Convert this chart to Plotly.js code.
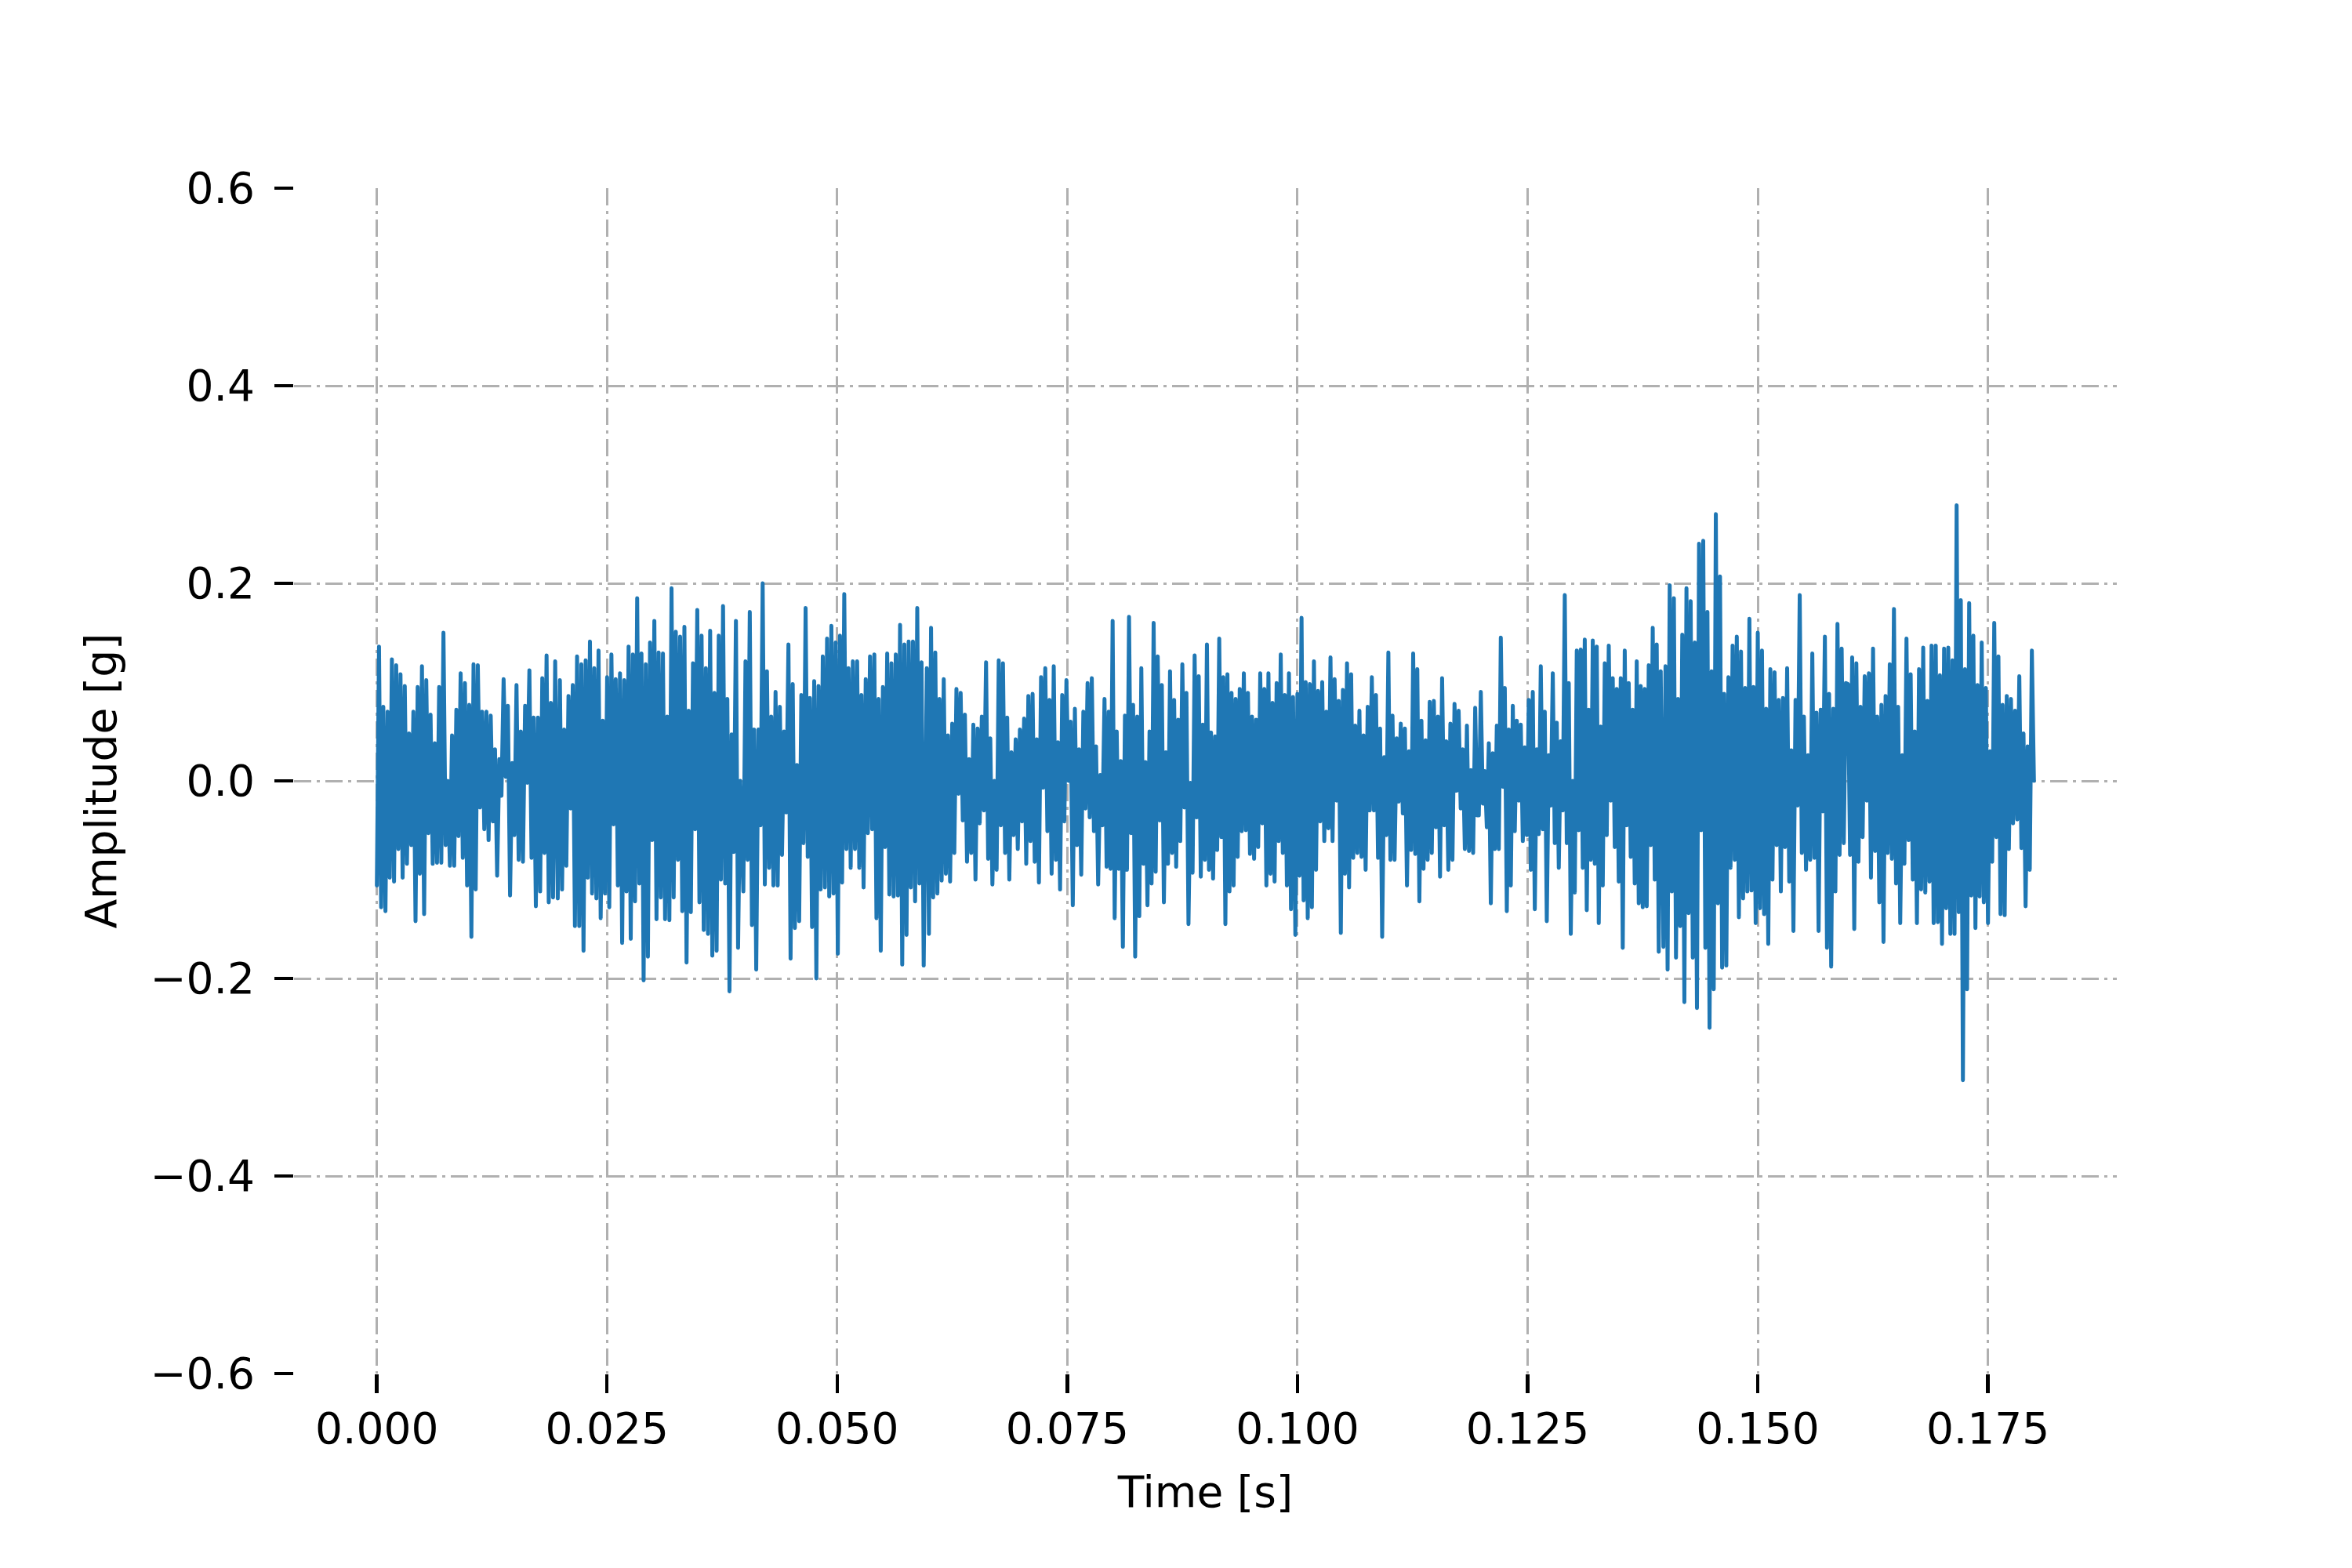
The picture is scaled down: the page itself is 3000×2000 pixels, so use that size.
<!DOCTYPE html>
<html>
<head>
<meta charset="utf-8">
<script src="https://cdn.plot.ly/plotly-3.0.1.min.js"></script>
<style>
  html, body { margin: 0; padding: 0; background: #fff; }
  #chart { width: 3000px; height: 2000px; }
  .js-line { stroke-linejoin: round; stroke-linecap: round; }
</style>
</head>
<body>
<div id="chart"></div>
<script>
// Amplitude readings [g]
const seg1 = [-0.106, 0.136, -0.128, 0.075, -0.132, 0.070, -0.098, 0.123, -0.102, 0.117, -0.069, 0.108, -0.098, 0.096, -0.084, 0.048, -0.065, 0.070, -0.142, 0.095, -0.094, 0.116, -0.135, 0.102, -0.053, 0.067, -0.084, 0.038, -0.083, 0.095, -0.083, 0.150, -0.065, 0.000, -0.086, 0.046, -0.086, 0.072, -0.056, 0.109, -0.078, 0.099, -0.106, 0.077, -0.158, 0.118, -0.110, 0.117, -0.027, 0.070, -0.049, 0.070, -0.060, 0.066, -0.041, 0.032, -0.096, 0.022, -0.015, 0.103, 0.004, 0.076, -0.116, 0.018, -0.055, 0.097, -0.080, 0.050, -0.082, 0.076, -0.002, 0.112, -0.078, 0.064, -0.127, 0.064, -0.112, 0.104, -0.073, 0.127, -0.123, 0.079, -0.118, 0.121];
const seg2 = [-0.119, 0.102, -0.110, 0.052, -0.086, 0.086, -0.028, 0.097, -0.147, 0.126, -0.147, 0.118, -0.172, 0.122, -0.098, 0.141, -0.114, 0.114, -0.119, 0.132, -0.139, 0.061, -0.114, 0.105, -0.128, 0.128, -0.044, 0.103, -0.106, 0.109, -0.164, 0.102, -0.112, 0.136, -0.160, 0.128, -0.122, 0.185, -0.104, 0.129, -0.202, 0.118, -0.178, 0.140, -0.060, 0.162, -0.140, 0.130, -0.118, 0.129, -0.140, 0.065, -0.141, 0.195, -0.118, 0.151, -0.080, 0.146, -0.132, 0.156, -0.184, 0.071, -0.133, 0.119, -0.049, 0.173, -0.123, 0.147, -0.151, 0.114, -0.155, 0.152, -0.177, 0.089, -0.172, 0.147, -0.100, 0.177, -0.104, 0.083, -0.213, 0.047, -0.072, 0.162, -0.169, 0.000];
const seg3 = [-0.112, 0.121, -0.080, 0.171, -0.146, 0.052, -0.191, 0.052, -0.045, 0.200, -0.105, 0.111, -0.088, 0.065, -0.106, 0.090, -0.106, 0.075, -0.075, 0.050, -0.032, 0.138, -0.180, 0.098, -0.149, 0.016, -0.142, 0.087, -0.063, 0.175, -0.077, 0.084, -0.148, 0.101, -0.200, 0.096, -0.110, 0.126, -0.108, 0.144, -0.117, 0.157, -0.114, 0.140, -0.175, 0.147, -0.103, 0.189, -0.069, 0.114, -0.088, 0.121, -0.069, 0.121, -0.088, 0.087, -0.108, 0.103, -0.053, 0.126, -0.049, 0.128, -0.139, 0.083, -0.172, 0.095, -0.067, 0.129, -0.115, 0.119, -0.117, 0.128, -0.116, 0.158, -0.186, 0.138, -0.156, 0.141, -0.108, 0.141, -0.122, 0.175, -0.104, 0.120, -0.187];
const seg4 = [0.114, -0.155, 0.155, -0.118, 0.130, -0.114, 0.083, -0.101, 0.103, -0.094, 0.046, -0.102, 0.058, -0.073, 0.093, -0.013, 0.089, -0.040, 0.067, -0.082, 0.022, -0.073, 0.057, -0.100, 0.053, -0.043, 0.065, -0.030, 0.120, -0.079, 0.043, -0.105, 0.000, -0.090, 0.122, -0.045, 0.119, -0.073, 0.064, -0.100, 0.029, -0.055, 0.042, -0.069, 0.052, -0.041, 0.063, -0.084, 0.086, -0.061, 0.088, -0.082, 0.042, -0.103, 0.105, -0.007, 0.114, -0.051, 0.082, -0.094, 0.116, -0.080, 0.039, -0.110, 0.087, -0.041, 0.102, 0.000, 0.060, -0.126, 0.073, -0.065, 0.032, -0.095, 0.070, -0.028, 0.099, -0.037, 0.104, -0.051, 0.035, -0.105, 0.006, -0.045, 0.083, -0.087, 0.070];
const seg5 = [-0.089, 0.162, -0.139, 0.050, -0.089, 0.020, -0.168, 0.066, -0.090, 0.166, -0.053, 0.077, -0.178, 0.065, -0.137, 0.114, -0.084, 0.019, -0.126, 0.050, -0.104, 0.160, -0.092, 0.126, -0.040, 0.097, -0.123, 0.029, -0.084, 0.111, -0.073, 0.082, -0.087, 0.062, -0.061, 0.118, -0.027, 0.089, -0.145, -0.002, -0.093, 0.127, -0.037, 0.106, -0.097, 0.057, -0.080, 0.138, -0.090, 0.049, -0.099, 0.045, -0.070, 0.144, -0.057, 0.105, -0.145, 0.108, -0.112, 0.089, -0.106, 0.083, -0.077, 0.093, -0.051, 0.109, -0.050, 0.089, -0.074, 0.065, -0.079, 0.062, -0.067, 0.109, -0.043, 0.093, -0.106, 0.109, -0.094, 0.079, -0.102, 0.099, -0.061, 0.128, -0.073, 0.087, -0.106, 0.109, -0.130, 0.085];
const seg6 = [-0.156, 0.088, -0.096, 0.165, -0.121, 0.100, -0.139, 0.098, -0.128, 0.121, -0.090, 0.091, -0.041, 0.100, -0.061, 0.070, -0.048, 0.125, -0.061, 0.103, -0.020, 0.081, -0.154, 0.092, -0.094, 0.119, -0.108, 0.108, -0.078, 0.056, -0.073, 0.071, -0.077, 0.046, -0.090, 0.075, -0.030, 0.105, -0.030, 0.087, -0.078, 0.053, -0.158, 0.024, -0.055, 0.130, -0.080, 0.066, -0.080, 0.043, -0.021, 0.058, -0.033, 0.053, -0.106, 0.030, -0.070, 0.129, -0.074, 0.113, -0.122, 0.061, -0.089, 0.041, -0.080, 0.080, -0.073, 0.081, -0.047, 0.065, -0.097, 0.104, -0.045, 0.040, -0.090, 0.058, -0.080, 0.078, -0.010, 0.071, -0.028, 0.032, -0.069, 0.056, -0.071, 0.011, -0.073, 0.074, -0.035];
const seg7 = [-0.035, 0.090, -0.023, 0.010, -0.047, 0.038, -0.124, 0.028, -0.069, 0.056, -0.069, 0.145, -0.006, 0.094, -0.132, 0.052, -0.106, 0.076, -0.051, 0.061, -0.020, 0.057, -0.061, 0.034, -0.055, 0.082, -0.090, 0.090, -0.130, 0.032, -0.054, 0.116, -0.049, 0.070, -0.142, 0.026, -0.025, 0.109, -0.063, 0.059, -0.088, 0.040, -0.030, 0.188, -0.063, 0.099, -0.155, 0.000, -0.113, 0.132, -0.050, 0.133, -0.088, 0.143, -0.131, 0.072, -0.080, 0.142, -0.084, 0.136, -0.144, 0.055, -0.106, 0.119, -0.055, 0.137, -0.020, 0.104, -0.067, 0.093, -0.102, 0.104, -0.169, 0.132, -0.045, 0.099, -0.077, 0.072, -0.104, 0.121, -0.124, 0.096, -0.128, 0.093, -0.127, 0.117, -0.065, 0.155, -0.100, 0.138, -0.173, 0.111];
const seg8 = [-0.168, 0.116, -0.191, 0.198, -0.112, 0.185, -0.179, 0.083, -0.147, 0.148, -0.224, 0.195, -0.134, 0.182, -0.179, 0.140, -0.230, 0.240, -0.050, 0.243, -0.169, 0.171, -0.250, 0.111, -0.211, 0.270, -0.124, 0.207, -0.189, 0.088, -0.187, 0.105, -0.088, 0.137, -0.080, 0.146, -0.138, 0.131, -0.119, 0.094, -0.112, 0.164, -0.111, 0.095, -0.144, 0.150, -0.129, 0.132, -0.135, 0.073, -0.165, 0.113, -0.100, 0.110, -0.065, 0.082, -0.112, 0.084, -0.067, 0.114, -0.102, 0.031, -0.152, 0.082, -0.025, 0.188, -0.073, 0.065, -0.090, 0.026, -0.080, 0.129, -0.078, 0.069, -0.152, 0.072, -0.031, 0.146, -0.169, 0.088, -0.188, 0.073, -0.112, 0.159, -0.075, 0.134, -0.063, 0.099];
const seg9 = [0.098, -0.075, 0.125, -0.150, 0.119, -0.082, 0.075, -0.057, 0.106, -0.020, 0.109, -0.098, 0.134, -0.071, 0.065, -0.123, 0.077, -0.163, 0.086, -0.073, 0.118, -0.079, 0.174, -0.104, 0.075, -0.144, 0.026, -0.084, 0.144, -0.060, 0.108, -0.100, 0.050, -0.144, 0.113, -0.110, 0.135, -0.113, 0.081, -0.102, 0.137, -0.144, 0.137, -0.143, 0.107, -0.165, 0.134, -0.129, 0.135, -0.155, 0.122, -0.155, 0.279, -0.133, 0.183, -0.303, 0.113, -0.211, 0.180, -0.116, 0.147, -0.149, 0.097, -0.117, 0.140, -0.123, 0.094, -0.144, 0.030, -0.082, 0.160, -0.057, 0.126, -0.135, 0.077, -0.136, 0.086, -0.069, 0.083, -0.043, 0.071, -0.039, 0.106, -0.068, 0.048, -0.127, 0.035, -0.090, 0.132, 0.000];

// Time span [s] covered by each segment (first and last reading)
const segStart = [0.00000, 0.01965, 0.03981, 0.05974, 0.07970, 0.09977, 0.11970, 0.13975, 0.15980];
const segEnd   = [0.01937, 0.03947, 0.05940, 0.07950, 0.09952, 0.11953, 0.13946, 0.15957, 0.18000];

// Axis ticks
const xTicks = [0.000, 0.025, 0.050, 0.075, 0.100, 0.125, 0.150, 0.175];
const yTicks = [-0.6, -0.4, -0.2, 0.0, 0.2, 0.4, 0.6];

const segments = [seg1, seg2, seg3, seg4, seg5, seg6, seg7, seg8, seg9];
const time = [];
const amp = [];
segments.forEach((seg, k) => {
  const n = seg.length;
  seg.forEach((v, i) => {
    time.push(segStart[k] + (segEnd[k] - segStart[k]) * i / (n - 1));
    amp.push(v);
  });
});

const FONT = 'DejaVu Sans, Liberation Sans, sans-serif';
const gridDash = '22px,7px,4px,7px';

const trace = {
  x: time,
  y: amp,
  type: 'scatter',
  mode: 'lines',
  line: { color: '#1f77b4', width: 5 },
  showlegend: false,
  hoverinfo: 'skip'
};

const layout = {
  width: 3000,
  height: 2000,
  paper_bgcolor: '#ffffff',
  plot_bgcolor: '#ffffff',
  margin: { l: 375, r: 300, t: 240, b: 248, pad: 0 },
  font: { family: FONT, size: 55, color: '#000000' },
  showlegend: false,
  xaxis: {
    range: [-0.009, 0.189],
    tickmode: 'array',
    tickvals: xTicks,
    tickformat: '.3f',
    ticks: 'outside',
    ticklen: 24,
    tickwidth: 4.5,
    tickcolor: '#000000',
    ticklabelstandoff: -2,
    tickfont: { family: FONT, size: 55, color: '#000000' },
    showline: false,
    zeroline: false,
    showgrid: true,
    gridcolor: '#b0b0b0',
    gridwidth: 3,
    griddash: gridDash,
    title: { text: 'Time [s]', font: { family: FONT, size: 55, color: '#000000' }, standoff: 30 },
    automargin: false
  },
  yaxis: {
    range: [-0.6, 0.6],
    tickmode: 'array',
    tickvals: yTicks,
    tickformat: '.1f',
    ticks: 'outside',
    ticklen: 24,
    tickwidth: 4.5,
    tickcolor: '#000000',
    ticklabelstandoff: 14,
    tickfont: { family: FONT, size: 55, color: '#000000' },
    showline: false,
    zeroline: false,
    showgrid: true,
    gridcolor: '#b0b0b0',
    gridwidth: 3,
    griddash: gridDash,
    title: { text: 'Amplitude [g]', font: { family: FONT, size: 55, color: '#000000' }, standoff: 25 },
    automargin: false
  }
};

Plotly.newPlot('chart', [trace], layout, { staticPlot: true, displayModeBar: false });
</script>
</body>
</html>
